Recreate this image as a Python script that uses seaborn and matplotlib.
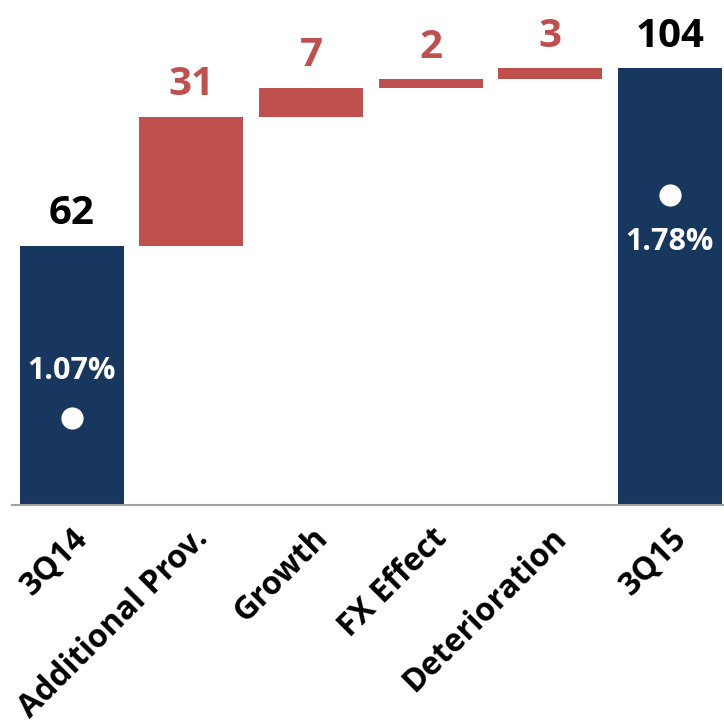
import matplotlib
matplotlib.use("Agg")
import matplotlib.pyplot as plt
import seaborn as sns
import numpy as np

# datos
categorias = ["3Q14", "Additional Prov.", "Growth", "FX Effect", "Deterioration", "3Q15"]
valores = [61.6, 30.6, 6.9, 2.1, 2.6, 103.8]
es_total = [True, False, False, False, False, True]
pct_labels = ["1.07%", "1.78%"]
pct_valores = [1.07, 1.78]
pct_pos = [0, 5]

AZUL = "#17375E"
ROJO = "#C0504D"

sns.set_theme(style="white")
plt.rcParams["font.family"] = ["Open Sans", "DejaVu Sans"]

fig = plt.figure(figsize=(7.24, 7.28), dpi=100)
ax = fig.add_axes([0.0166, 0.3063, 0.983, 0.6937])

# base de cada barra (cascada)
bases = []
acum = 0
for v, tot in zip(valores, es_total):
    if tot:
        bases.append(0)
        acum = v
    else:
        bases.append(acum)
        acum += v

x = np.arange(len(categorias))
colores = [AZUL if t else ROJO for t in es_total]
ax.bar(x, valores, bottom=bases, width=0.87, color=colores, linewidth=0)

for xi, v, b, t in zip(x, valores, bases, es_total):
    ax.annotate(f"{v:.0f}", (xi, b + v), xytext=(0, 9), textcoords="offset points",
                ha="center", va="bottom", fontsize=29, fontweight="bold",
                color="black" if t else ROJO)

ax.set_xlim(-0.5, 5.45)
ax.set_ylim(0, 120)
ax.set_yticks([])
ax.set_xticks(x)
ax.set_xticklabels(categorias, rotation=45, ha="right", rotation_mode="anchor",
                   fontsize=23, fontweight="bold", color="black")
ax.tick_params(axis="x", length=0, pad=12)
for s in ["top", "left", "right"]:
    ax.spines[s].set_visible(False)
ax.spines["bottom"].set_color("#A0A0A0")
ax.spines["bottom"].set_linewidth(1.5)

# eje secundario para los porcentajes
ax2 = ax.twinx()
ax2.set_ylim(0.794, 2.40)
ax2.axis("off")
sns.scatterplot(x=pct_pos, y=pct_valores, ax=ax2, color="white", s=16**2, linewidth=0)
offsets = [34, -34]
for px, pv, pl, off in zip(pct_pos, pct_valores, pct_labels, offsets):
    ax2.annotate(pl, (px, pv), xytext=(0, off), textcoords="offset points",
                 ha="center", va="center", fontsize=22, fontweight="bold", color="white")
ax2.set_xlim(-0.5, 5.45)

fig.savefig("out.png", dpi=100)
